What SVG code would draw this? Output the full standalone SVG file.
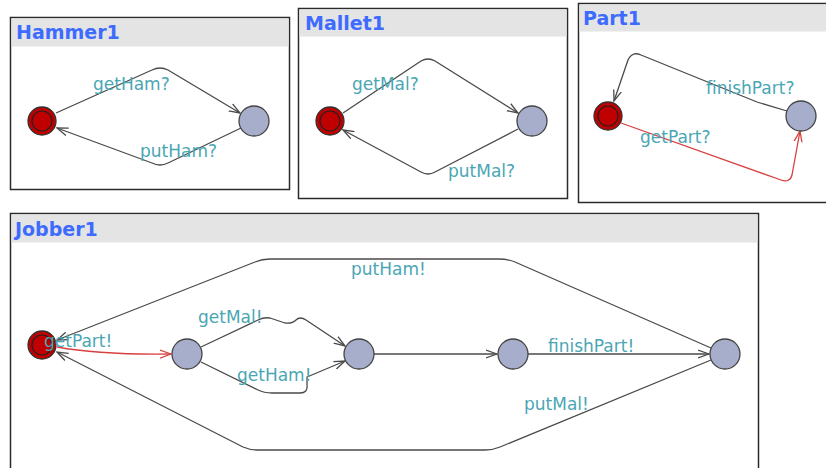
<svg xmlns="http://www.w3.org/2000/svg" width="826" height="468" viewBox="0 0 826 468">
<style>
.box{fill:#fff;stroke:#2a2a2a;stroke-width:1.5}
.hdr{fill:#e4e4e4}
.title{font-family:"DejaVu Sans",sans-serif;font-weight:bold;font-size:19px;fill:#3d6bff}
.lbl{font-family:"DejaVu Sans",sans-serif;font-size:17px;fill:#4aa6b4}
.init{fill:#c00000;stroke:#333;stroke-width:1.3}
.inner{fill:none;stroke:#222;stroke-width:1.2}
.loc{fill:#a7aecb;stroke:#444;stroke-width:1.3}
.e{fill:none;stroke:#4a4a4a;stroke-width:1.3;stroke-linejoin:round;marker-end:url(#ah)}
.r{fill:none;stroke:#d84040;stroke-width:1.3;stroke-linejoin:round;marker-end:url(#ahr)}
</style>
<defs>
<marker id="ah" viewBox="0 0 12 10" refX="11" refY="5" markerWidth="12" markerHeight="10" markerUnits="userSpaceOnUse" orient="auto"><path d="M0,1 L11,5 L0,9" fill="none" stroke="#4a4a4a" stroke-width="1.3"/></marker>
<marker id="ahr" viewBox="0 0 12 10" refX="11" refY="5" markerWidth="12" markerHeight="10" markerUnits="userSpaceOnUse" orient="auto"><path d="M0,1 L11,5 L0,9" fill="none" stroke="#d84040" stroke-width="1.3"/></marker>
</defs>
<rect width="826" height="468" fill="#fff"/>

<g id="Hammer1">
<rect class="box" x="10.5" y="17.5" width="279" height="172"/>
<rect class="hdr" x="11.5" y="18.5" width="277" height="28"/>
<text class="title" x="16" y="39">Hammer1</text>
</g>
<g id="Mallet1">
<rect class="box" x="298.5" y="8.5" width="269" height="190"/>
<rect class="hdr" x="299.5" y="9.5" width="267" height="27"/>
<text class="title" x="305" y="30">Mallet1</text>
</g>
<g id="Part1">
<rect class="box" x="578.5" y="3.5" width="260" height="199"/>
<rect class="hdr" x="579.5" y="4.5" width="258" height="27"/>
<text class="title" x="583" y="25">Part1</text>
</g>
<g id="Jobber1">
<rect class="box" x="10.5" y="213.5" width="748" height="270"/>
<rect class="hdr" x="11.5" y="214.5" width="746" height="28"/>
<text class="title" x="15" y="236">Jobber1</text>
</g>

<g id="connectors">
<path class="e" d="M56,113 L152,70 Q160,66 168,70 L240,113"/>
<path class="e" d="M241,128 L168,163 Q160,167 152,163 L57,128"/>
<path class="e" d="M343,113 L421,61 Q428,57 435,61 L518,113"/>
<path class="e" d="M518,129 L435,172 Q428,176 421,172 L343,130"/>
<path class="e" d="M787,111 L757,102 L641,55 Q632,51 628,60 L614,101"/>
<path class="r" d="M621,123 L781,180 Q790,183 792,175 L800,131"/>
<path class="e" d="M711,348 L515,262 Q507,259 499,259 L270,259 Q262,259 255,262 L57,340"/>
<path class="e" d="M711,360 L500,447 Q493,450 485,450 L258,450 Q250,450 243,447 L57,352"/>
<path class="r" d="M57,347 Q100,355 171,354"/>
<path class="e" d="M201,347 L258,320 Q264,317 270,318 L285,323 Q292,324 296,320 Q300,316 306,320 L345,346"/>
<path class="e" d="M201,362 L258,390 Q264,393 272,393 L300,393 Q308,393 307,385 L307,377 L345,361"/>
<path class="e" d="M374,354 L497,354"/>
<path class="e" d="M528,354 L709,354"/>
</g>

<g id="H_idle"><circle class="init" cx="42" cy="121" r="14"/><circle class="inner" cx="42" cy="121" r="10"/></g>
<g id="H_busy"><circle class="loc" cx="254" cy="121" r="15"/></g>
<g id="M_idle"><circle class="init" cx="330" cy="121" r="14"/><circle class="inner" cx="330" cy="121" r="10"/></g>
<g id="M_busy"><circle class="loc" cx="532" cy="121" r="15"/></g>
<g id="P_idle"><circle class="init" cx="608" cy="116" r="14"/><circle class="inner" cx="608" cy="116" r="10"/></g>
<g id="P_busy"><circle class="loc" cx="801" cy="116" r="15"/></g>
<g id="J_init"><circle class="init" cx="42" cy="345" r="14"/><circle class="inner" cx="42" cy="345" r="10"/></g>
<g id="J_a"><circle class="loc" cx="187" cy="354" r="15"/></g>
<g id="J_b"><circle class="loc" cx="359" cy="354" r="15"/></g>
<g id="J_c"><circle class="loc" cx="513" cy="354" r="15"/></g>
<g id="J_d"><circle class="loc" cx="725" cy="354" r="15"/></g>

<g id="labels">
<text class="lbl" x="93" y="90">getHam?</text>
<text class="lbl" x="140" y="157">putHam?</text>
<text class="lbl" x="352" y="90">getMal?</text>
<text class="lbl" x="448" y="177">putMal?</text>
<text class="lbl" x="706" y="94">finishPart?</text>
<text class="lbl" x="640" y="143">getPart?</text>
<text class="lbl" x="351" y="275">putHam!</text>
<text class="lbl" x="524" y="410">putMal!</text>
<text class="lbl" x="44" y="347">getPart!</text>
<text class="lbl" x="198" y="323">getMal!</text>
<text class="lbl" x="237" y="381">getHam!</text>
<text class="lbl" x="548" y="352">finishPart!</text>
</g>
</svg>
